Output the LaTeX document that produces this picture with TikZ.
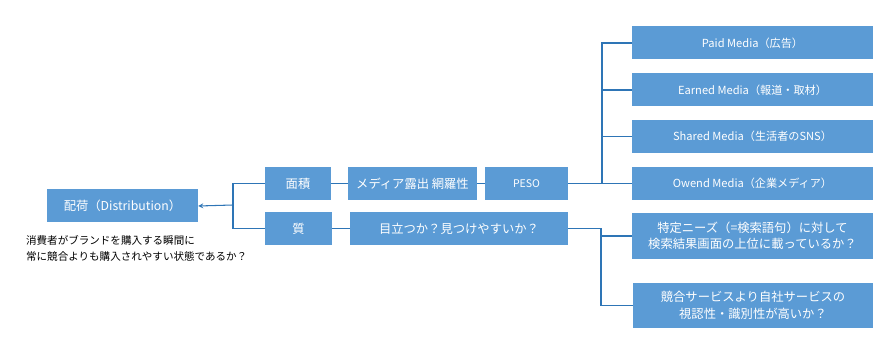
\documentclass[tikz,border=0pt]{standalone}
\usepackage{fontspec}
\setmainfont{Noto Sans CJK JP}
\usepackage{tikz}
\usetikzlibrary{arrows.meta,calc,positioning}

\definecolor{boxblue}{HTML}{5B9BD5}
\definecolor{linkblue}{HTML}{2E75B6}

\begin{document}
\begin{tikzpicture}[
    x=0.03cm, y=-0.03cm,
    every node/.style={font=\fontsize{10.5pt}{14pt}\selectfont},
    box/.style={fill=boxblue, text=white, inner sep=0pt,
        minimum height=0.99cm, align=center},
    link/.style={draw=linkblue, line width=0.9pt},
    >=stealth
]
\useasboundingbox (0,0) rectangle (888,347);

% Left side
\node[box, minimum width=4.53cm] (dist) at (122.5,206)
    {配荷（Distribution）};
\node[anchor=north west, align=left,
    font=\fontsize{9pt}{13.6pt}\selectfont] (note) at (22,231)
    {消費者がブランドを購入する瞬間に\\常に競合よりも購入されやすい状態であるか？};

% Second column
\node[box, minimum width=1.98cm] (area) at (298,183.5) {面積};
\node[box, minimum width=2.01cm] (qual) at (298.5,228.5) {質};

% Third column
\node[box, minimum width=3.87cm] (expo) at (412.5,183.5)
    {メディア露出 網羅性};
\node[box, minimum width=2.49cm, font=\fontsize{9pt}{12pt}\selectfont] (peso)
    at (526.5,183.5) {PESO};
\node[box, minimum width=6.54cm] (stand) at (459,228.5)
    {目立つか？見つけやすいか？};

% Right column
\node[box, minimum width=7.23cm, font=\fontsize{9.5pt}{12pt}\selectfont] (paid)
    at (752.5,43) {Paid Media（広告）};
\node[box, minimum width=7.23cm, font=\fontsize{9.5pt}{12pt}\selectfont] (earned)
    at (752.5,90) {Earned Media（報道・取材）};
\node[box, minimum width=7.23cm, font=\fontsize{9.5pt}{12pt}\selectfont] (shared)
    at (752.5,136.5) {Shared Media（生活者のSNS）};
\node[box, minimum width=7.23cm, font=\fontsize{9.5pt}{12pt}\selectfont] (owned)
    at (752.5,183.5) {Owend Media（企業メディア）};
\node[box, minimum width=7.23cm, minimum height=1.38cm] (search)
    at (752.5,236) {特定ニーズ（=検索語句）に対して\\検索結果画面の上位に載っているか？};
\node[box, minimum width=7.2cm, minimum height=1.35cm] (visib)
    at (753,305.5) {競合サービスより自社サービスの\\視認性・識別性が高いか？};

% Connectors
\coordinate (jl) at (233,205);
\coordinate (jr) at (602,183.5);
\coordinate (jq) at (601,228.5);

\draw[link] (area.west) -| (jl);
\draw[link] (qual.west) -| (jl);
\draw[link, ->] (jl) -- (dist.east);

\draw[link] (area.east) -- (expo.west);
\draw[link] (expo.east) -- (peso.west);
\draw[link] (peso.east) -- (owned.west);
\draw[link] (paid.west) -| (jr);
\draw[link] (earned.west) -| (jr);
\draw[link] (shared.west) -| (jr);

\draw[link] (qual.east) -- (stand.west);
\draw[link] (stand.east) -- (jq) |- (visib.west);
\draw[link] (jq |- search.west) -- (search.west);

\end{tikzpicture}
\end{document}
